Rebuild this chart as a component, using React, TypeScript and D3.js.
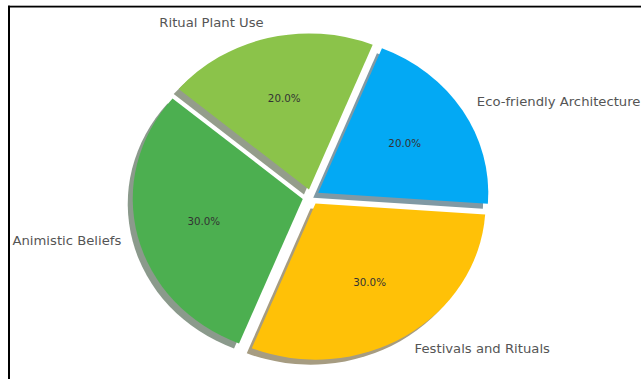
import React from "react";
import * as d3 from "d3";

const labels = ["Eco-friendly Architecture", "Ritual Plant Use", "Animistic Beliefs", "Festivals and Rituals"];
const values = [20, 20, 30, 30];
const colors = ["#03A9F4", "#8BC34A", "#4CAF50", "#FFC107"];
const explode = [0.05, 0.05, 0.05, 0.05];
const startAngleDeg = -4;

const W = 641;
const H = 379;
const cx = 311;
const cy = 197;
const rx = 170;
const ry = 156;
const textScale = 1.065;
const shadowDx = -5;
const shadowDy = 5;

function shadowColor(c: string) {
  const rgb = d3.rgb(c);
  const r = rgb.r * 0.3 * 0.5 + 255 * 0.5;
  const g = rgb.g * 0.3 * 0.5 + 255 * 0.5;
  const b = rgb.b * 0.3 * 0.5 + 255 * 0.5;
  return d3.rgb(r, g, b).formatHex();
}

export default function App() {
  const s0 = Math.PI / 2 - (startAngleDeg * Math.PI) / 180;
  const pie = d3
    .pie<number>()
    .sort(null)
    .value((d) => d)
    .startAngle(s0)
    .endAngle(s0 - 2 * Math.PI);
  const arcs = pie(values);
  const arcGen = d3.arc<d3.PieArcDatum<number>>().innerRadius(0).outerRadius(1);

  const items = arcs.map((a, i) => {
    const mid = (a.startAngle + a.endAngle) / 2;
    const ux = Math.sin(mid);
    const uy = -Math.cos(mid);
    const ox = cx + explode[i] * rx * ux;
    const oy = cy + explode[i] * ry * uy;
    return { a, i, ux, uy, ox, oy };
  });

  const fontFamily = "'DejaVu Sans', sans-serif";
  const total = d3.sum(values);

  return (
    <div style={{ position: "absolute", left: 0, top: 0 }}>
      <svg width={W} height={H} style={{ display: "block" }}>
        <rect x={0} y={0} width={W} height={H} fill="#ffffff" />
        {items.map(({ a, i, ox, oy }) => (
          <path
            key={"s" + i}
            d={arcGen(a) || ""}
            transform={`translate(${ox + shadowDx},${oy + shadowDy}) scale(${rx},${ry})`}
            fill={shadowColor(colors[i])}
          />
        ))}
        {items.map(({ a, i, ox, oy }) => (
          <path
            key={"w" + i}
            d={arcGen(a) || ""}
            transform={`translate(${ox},${oy}) scale(${rx},${ry})`}
            fill={colors[i]}
          />
        ))}
        {items.map(({ i, ux, uy, ox, oy }) => {
          const px = ox + 0.6 * rx * ux;
          const py = oy + 0.6 * ry * uy;
          return (
            <text
              key={"p" + i}
              transform={`translate(${px},${py}) scale(${textScale},1)`}
              textAnchor="middle"
              dominantBaseline="central"
              fontFamily={fontFamily}
              fontSize={9.7}
              fill="#333333"
            >
              {((values[i] / total) * 100).toFixed(1) + "%"}
            </text>
          );
        })}
        {items.map(({ i, ux, uy, ox, oy }) => {
          const lx = ox + 1.1 * rx * ux;
          const ly = oy + 1.1 * ry * uy;
          return (
            <text
              key={"l" + i}
              transform={`translate(${lx},${ly}) scale(${textScale},1)`}
              textAnchor={ux > 0 ? "start" : "end"}
              dominantBaseline="central"
              fontFamily={fontFamily}
              fontSize={12.4}
              fill="#555555"
            >
              {labels[i]}
            </text>
          );
        })}
        <rect x={8} y={5.7} width={W - 8} height={1.8} fill="#000000" />
        <rect x={8} y={5.7} width={2} height={H - 5.7} fill="#000000" />
      </svg>
    </div>
  );
}
